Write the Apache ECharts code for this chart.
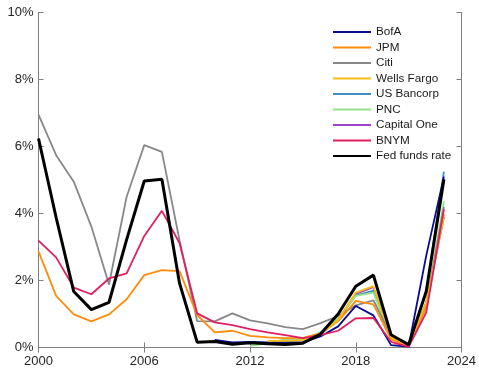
<!DOCTYPE html>
<html>
<head>
<meta charset="utf-8">
<script src="https://cdn.jsdelivr.net/npm/echarts@6/dist/echarts.min.js"></script>
<style>
  html, body { margin: 0; padding: 0; background: #fff; }
  #chart { width: 479px; height: 373px; }
</style>
</head>
<body>
<div id="chart"></div>
<script>
// Annual deposit rates by bank vs. the effective fed funds rate, percent
const years = [2000, 2001, 2002, 2003, 2004, 2005, 2006, 2007, 2008, 2009, 2010, 2011,
               2012, 2013, 2014, 2015, 2016, 2017, 2018, 2019, 2020, 2021, 2022, 2023];

const bofa = [null, null, null, null, null, null, null, null, null, null, 0.23, 0.15,
              0.17, 0.15, 0.15, 0.15, 0.33, 0.63, 1.24, 0.96, 0.07, 0.03, 2.75, 5.10];
const jpm = [2.87, 1.54, 0.99, 0.78, 0.99, 1.44, 2.16, 2.31, 2.28, 0.97, 0.45, 0.50,
             0.35, 0.30, 0.28, 0.29, 0.42, 0.78, 1.39, 1.29, 0.25, 0.03, 1.20, 4.00];
const citi = [6.95, 5.74, 4.95, 3.61, 1.88, 4.50, 6.04, 5.84, 3.20, 0.79, 0.78, 1.02,
              0.81, 0.72, 0.61, 0.55, 0.73, 0.94, 1.26, 1.41, 0.35, 0.12, 1.30, 4.20];
const wellsFargo = [null, null, null, null, null, null, null, null, null, null, null, null,
                    null, 0.20, 0.20, 0.22, 0.40, 0.82, 1.64, 1.83, 0.32, 0.05, 1.35, 3.87];
const usBancorp = [null, null, null, null, null, null, null, null, null, null, null, null,
                   null, null, 0.20, 0.22, 0.40, 0.85, 1.55, 1.70, 0.35, 0.06, 1.68, 5.25];
const pnc = [null, null, null, null, null, null, null, null, null, null, null, null,
             0.05, 0.12, 0.25, 0.25, 0.45, 0.87, 1.54, 1.64, 0.30, 0.04, 1.28, 4.36];
const capitalOne = [null, null, null, null, null, null, null, null, null, null, null, null,
                    null, null, null, 0.22, 0.40, 0.82, 1.60, 1.80, 0.32, 0.05, 1.35, 3.90];
const bnym = [3.19, 2.69, 1.79, 1.59, 2.06, 2.21, 3.33, 4.08, 3.12, 1.02, 0.75, 0.67,
              0.55, 0.45, 0.37, 0.28, 0.37, 0.50, 0.87, 0.88, 0.17, 0.02, 1.05, 4.13];
const fedFunds = [6.24, 3.88, 1.67, 1.13, 1.35, 3.22, 4.97, 5.02, 1.92, 0.16, 0.18, 0.10,
                  0.14, 0.11, 0.09, 0.13, 0.40, 1.00, 1.83, 2.16, 0.38, 0.08, 1.68, 5.02];

const xTicks = [2000, 2006, 2012, 2018, 2024];
const yTicks = [0, 2, 4, 6, 8, 10];

// Legend order; drawing order below puts the fed funds line on top
const legendOrder = ['BofA', 'JPM', 'Citi', 'Wells Fargo', 'US Bancorp', 'PNC', 'Capital One', 'BNYM', 'Fed funds rate'];

const seriesDefs = [
  { name: 'Capital One', values: capitalOne, color: '#9b45c9', width: 1.8 },
  { name: 'US Bancorp', values: usBancorp, color: '#3f8fc4', width: 1.8 },
  { name: 'PNC', values: pnc, color: '#93e38a', width: 1.8 },
  { name: 'Citi', values: citi, color: '#888888', width: 1.8 },
  { name: 'BofA', values: bofa, color: '#0b0b8f', width: 1.8 },
  { name: 'JPM', values: jpm, color: '#ff8c0a', width: 1.8 },
  { name: 'Wells Fargo', values: wellsFargo, color: '#f7bd16', width: 1.8 },
  { name: 'BNYM', values: bnym, color: '#de2062', width: 1.8 },
  { name: 'Fed funds rate', values: fedFunds, color: '#000000', width: 3 }
];

const axisGray = '#7f7f7f';
const labelColor = '#262626';
const fontFamily = '"Liberation Sans", Arial, sans-serif';

const chart = echarts.init(document.getElementById('chart'), null, { renderer: 'canvas' });

const baseX = {
  type: 'value', min: xTicks[0], max: xTicks[xTicks.length - 1], interval: 6,
  axisLine: { show: true, lineStyle: { color: axisGray, width: 1 } },
  axisTick: { show: true, inside: true, length: 5, lineStyle: { color: axisGray } },
  splitLine: { show: false }
};
const baseY = {
  type: 'value', min: yTicks[0], max: yTicks[yTicks.length - 1], interval: 2,
  axisLine: { show: true, lineStyle: { color: axisGray, width: 1 } },
  axisTick: { show: true, inside: true, length: 5, lineStyle: { color: axisGray } },
  splitLine: { show: false }
};

chart.setOption({
  animation: false,
  backgroundColor: '#ffffff',
  grid: { left: 38.5, right: 13, top: 12.5, bottom: 25.5, containLabel: false },
  legend: {
    data: legendOrder,
    orient: 'vertical',
    left: 332, top: 26,
    padding: 0,
    itemWidth: 38, itemHeight: 12, itemGap: 3.5,
    itemStyle: { opacity: 0 },
    textStyle: { fontSize: 11.7, color: '#1a1a1a', fontFamily: fontFamily },
    selectedMode: false
  },
  xAxis: [
    Object.assign({}, baseX, {
      position: 'bottom',
      axisLabel: { show: true, margin: 7, fontSize: 13, color: labelColor, fontFamily: fontFamily,
                   formatter: v => String(v) }
    }),
    Object.assign({}, baseX, { position: 'top', axisLabel: { show: false } })
  ],
  yAxis: [
    Object.assign({}, baseY, {
      position: 'left',
      axisLabel: { show: true, margin: 5, fontSize: 13, color: labelColor, fontFamily: fontFamily,
                   formatter: v => v + '%' }
    }),
    Object.assign({}, baseY, { position: 'right', axisLabel: { show: false } })
  ],
  series: seriesDefs.map(s => ({
    name: s.name,
    type: 'line',
    xAxisIndex: 0, yAxisIndex: 0,
    data: years.map((yr, i) => [yr, s.values[i]]),
    symbol: 'none',
    connectNulls: false,
    color: s.color,
    lineStyle: { color: s.color, width: s.width },
    emphasis: { disabled: true }
  }))
});
</script>
</body>
</html>
